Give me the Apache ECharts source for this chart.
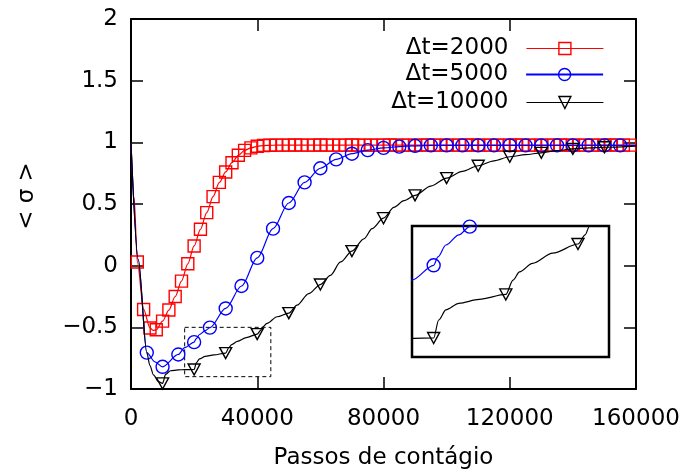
<!DOCTYPE html>
<html>
<head>
<meta charset="utf-8">
<script src="https://cdn.jsdelivr.net/npm/echarts@6/dist/echarts.min.js"></script>
<style>html,body{margin:0;padding:0;background:#fff;}#c{width:688px;height:475px;}</style>
</head>
<body>
<div id="c"></div>
<script>
// ---- data ----
const seriesNames = ['Δt=2000', 'Δt=5000', 'Δt=10000'];
const seriesColors = ['#ff0000', '#0000ff', '#000000'];
const markStep = [2000, 5000, 10000];
const xTicks = [0, 40000, 80000, 120000, 160000];
const yTicks = [-1, -0.5, 0, 0.5, 1, 1.5, 2];

// values at the marker positions (x = step, 2*step, ...)
const red2000 = [0.03, -0.355, -0.505, -0.52, -0.45, -0.36, -0.25, -0.125, 0.015, 0.16,
  0.295, 0.43, 0.56, 0.675, 0.76, 0.835, 0.895, 0.935, 0.955, 0.968,
  0.974, 0.976, 0.977, 0.977, 0.977, 0.978, 0.977, 0.977, 0.977, 0.978,
  0.977, 0.977, 0.977, 0.977, 0.978, 0.977, 0.977, 0.977, 0.977, 0.977,
  0.978, 0.977, 0.977, 0.977, 0.977, 0.977, 0.978, 0.977, 0.977, 0.977,
  0.977, 0.977, 0.977, 0.978, 0.977, 0.977, 0.977, 0.977, 0.977, 0.977,
  0.978, 0.977, 0.977, 0.977, 0.977, 0.977, 0.977, 0.978, 0.977, 0.977,
  0.977, 0.977, 0.977, 0.977, 0.977, 0.978, 0.977, 0.977, 0.977];
const blue5000 = [-0.705, -0.82, -0.72, -0.62, -0.502, -0.347, -0.165, 0.063, 0.30, 0.508,
  0.675, 0.79, 0.862, 0.908, 0.937, 0.955, 0.965, 0.972, 0.975, 0.975,
  0.975, 0.975, 0.975, 0.975, 0.975, 0.975, 0.975, 0.975, 0.975, 0.975, 0.975];
const black10000 = [-0.955, -0.842, -0.709, -0.555, -0.385, -0.153, 0.118, 0.385, 0.57, 0.71,
  0.81, 0.883, 0.915, 0.947, 0.96];

// curve points between markers (no symbol)
const redCurve = [[0, 0.99], [1000, 0.55], [7000, -0.525], [160000, 0.977]];
const blueCurve = [[0, 0.99], [2300, 0.05], [7600, -0.78], [17000, -0.665],
  [20600, -0.594], [21700, -0.558], [23500, -0.527], [160000, 0.975]];
const blackCurve = [[0, 0.99], [2300, 0.05], [5000, -0.705], [6000, -0.81], [7100, -0.885],
  [8700, -0.94], [11000, -0.88], [12500, -0.852], [15000, -0.845], [17000, -0.843],
  [20700, -0.787], [21700, -0.756], [23500, -0.736], [26300, -0.724], [31000, -0.665],
  [31900, -0.64], [33700, -0.614], [36500, -0.583], [41000, -0.527], [41600, -0.5],
  [43100, -0.468], [46300, -0.414], [52600, -0.32], [56300, -0.226], [63200, -0.078],
  [66400, 0.03], [73800, 0.218], [76400, 0.30], [83300, 0.473], [86500, 0.527],
  [95000, 0.645], [105000, 0.765], [115000, 0.85], [125000, 0.9], [135000, 0.933],
  [145000, 0.955], [160000, 0.97]];

// zoomed region shown in the inset
const zoomX = [17000, 44300];
const zoomY = [-0.9, -0.5];

// ---- build ----
const FONT = 'DejaVu Sans';
const markVals = [red2000, blue5000, black10000];
const curves = [redCurve, blueCurve, blackCurve];
function buildData(i) {
  const pts = markVals[i].map((v, k) => ({ value: [markStep[i] * (k + 1), v] }));
  curves[i].forEach(p => pts.push({ value: p, symbol: 'none' }));
  pts.sort((a, b) => a.value[0] - b.value[0]);
  return pts;
}
const symbols = ['rect', 'circle', 'triangle'];
const symSizes = [12, 13, [12, 11]];
const symRot = [0, 0, 180];

function makeSeries(i, grid, withName) {
  return {
    type: 'line',
    name: withName ? seriesNames[i] : 'inset' + i,
    xAxisIndex: grid === 0 ? 0 : 2,
    yAxisIndex: grid === 0 ? 0 : 2,
    data: buildData(i),
    symbol: symbols[i],
    symbolSize: symSizes[i],
    symbolRotate: symRot[i],
    smooth: 0.3,
    smoothMonotone: 'x',
    clip: true,
    animation: false,
    lineStyle: { color: seriesColors[i], width: 1.2 },
    itemStyle: { color: 'rgba(0,0,0,0)', borderColor: seriesColors[i], borderWidth: 1.4 },
    emphasis: { disabled: true },
    z: 3 + i
  };
}

const series = [makeSeries(0, 0, true), makeSeries(1, 0, true), makeSeries(2, 0, true),
  makeSeries(0, 1, false), makeSeries(1, 1, false), makeSeries(2, 1, false)];
series[2].markArea = {
  silent: true,
  itemStyle: { color: 'rgba(0,0,0,0)', borderColor: '#000', borderWidth: 1, borderType: [4, 3] },
  data: [[{ coord: [zoomX[0], zoomY[1]] }, { coord: [zoomX[1], zoomY[0]] }]]
};

const fmtY = v => String(v).replace('-', '\u2212');
const fmtX = v => String(v);
const tickStyle = { inside: true, length: 12, lineStyle: { color: '#000', width: 1.5 } };
const lineSt = { onZero: false, lineStyle: { color: '#000', width: 2 } };
const labelSt = { fontSize: 23, fontFamily: FONT, color: '#000' };

const option = {
  backgroundColor: '#fff',
  animation: false,
  grid: [
    { left: 131, top: 19, width: 505, height: 372 },
    { left: 412, top: 226, width: 197, height: 131, show: true, borderColor: '#000', borderWidth: 2.5, backgroundColor: '#fff' }
  ],
  xAxis: [
    { type: 'value', gridIndex: 0, min: xTicks[0], max: xTicks[xTicks.length - 1], interval: xTicks[1] - xTicks[0],
      position: 'bottom', axisLine: lineSt, axisTick: tickStyle, splitLine: { show: false },
      axisLabel: Object.assign({ margin: 19, formatter: fmtX }, labelSt),
      name: 'Passos de contágio', nameLocation: 'middle', nameGap: 58,
      nameTextStyle: labelSt },
    { type: 'value', gridIndex: 0, min: xTicks[0], max: xTicks[xTicks.length - 1], interval: xTicks[1] - xTicks[0],
      position: 'top', axisLine: lineSt, axisTick: tickStyle, splitLine: { show: false }, axisLabel: { show: false } },
    { type: 'value', gridIndex: 1, min: zoomX[0], max: zoomX[1], show: false, splitLine: { show: false } }
  ],
  yAxis: [
    { type: 'value', gridIndex: 0, min: yTicks[0], max: yTicks[yTicks.length - 1], interval: yTicks[1] - yTicks[0],
      position: 'left', axisLine: lineSt, axisTick: tickStyle, splitLine: { show: false },
      axisLabel: Object.assign({ margin: 13, formatter: fmtY }, labelSt),
      name: '< σ >', nameLocation: 'middle', nameGap: 92, nameRotate: 90,
      nameTextStyle: Object.assign({ padding: [0, 0, 0, 16] }, labelSt) },
    { type: 'value', gridIndex: 0, min: yTicks[0], max: yTicks[yTicks.length - 1], interval: yTicks[1] - yTicks[0],
      position: 'right', axisLine: lineSt, axisTick: tickStyle, splitLine: { show: false }, axisLabel: { show: false } },
    { type: 'value', gridIndex: 1, min: zoomY[0], max: zoomY[1], show: false, splitLine: { show: false } }
  ],
  legend: seriesNames.map((n, i) => ({
    data: [{ name: n,
      itemStyle: { color: 'rgba(0,0,0,0)', borderColor: seriesColors[i], borderWidth: 1.4 },
      lineStyle: { color: seriesColors[i], width: i === 1 ? 1.8 : 1.2 } }],
    right: 79, top: [32, 58, 86][i], align: 'right', orient: 'horizontal',
    itemWidth: 77, itemHeight: 15, selectedMode: false,
    textStyle: { fontSize: 23, fontFamily: FONT, color: '#000', padding: [0, 13, 0, 0] }
  })),
  series: series
};

const chart = echarts.init(document.getElementById('c'), null, { renderer: 'canvas' });
chart.setOption(option);
</script>
</body>
</html>
